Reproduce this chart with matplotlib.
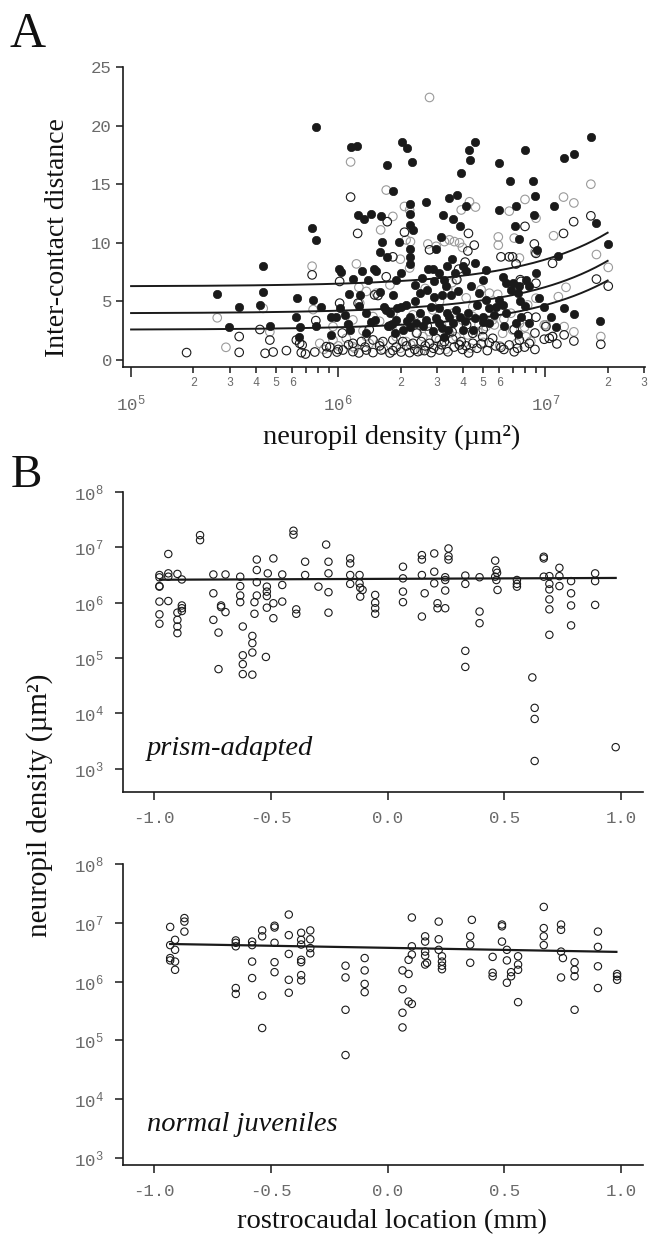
import numpy as np
import matplotlib
matplotlib.use("Agg")
import matplotlib.pyplot as plt
from matplotlib.ticker import FixedLocator, FuncFormatter, NullFormatter

plt.rcParams['font.family'] = ['Liberation Mono', 'DejaVu Sans']
plt.rcParams['mathtext.fontset'] = 'custom'
plt.rcParams['mathtext.rm'] = 'Liberation Mono'

# ---- Panel A data: log10(neuropil density) and inter-contact distance ----
filled_logx = [5.892, 6.06, 6.09, 6.309, 6.331, 6.356, 6.237, 6.661, 6.634, 6.637, 6.594, 6.775,
               6.902, 6.831, 6.939, 6.950, 6.859, 6.854, 6.875, 6.778, 6.945, 6.958, 7.040, 7.088,
               7.138, 7.220, 7.247, 7.304, 7.264, 7.063, 7.137, 7.088, 7.027, 7.053, 6.992, 6.263,
               6.425, 6.534, 6.574, 6.618, 6.508, 6.555, 6.586, 6.094, 6.123, 6.158, 6.205, 6.348,
               6.348, 6.349, 6.361, 6.296, 6.348, 6.345, 6.348, 6.210, 6.203, 6.237, 6.497, 6.470,
               5.874, 5.895, 5.638, 5.416, 5.635, 5.522, 5.622, 5.474, 5.670, 5.803, 5.879, 5.916,
               5.895, 5.798, 5.814, 5.810, 6.004, 6.012, 6.071, 6.116, 6.171, 6.184, 6.144, 5.964,
               5.988, 6.007, 6.031, 6.046, 6.055, 5.967, 6.104, 6.136, 6.133, 6.179, 6.219, 6.232,
               6.264, 6.284, 6.304, 6.328, 6.369, 6.393, 6.406, 6.272, 6.312, 6.345, 6.377, 6.433,
               6.457, 6.465, 6.489, 6.513, 6.465, 6.502, 6.545, 6.489, 6.525, 6.489, 6.537, 6.553,
               6.457, 6.529, 6.513, 6.527, 6.551, 6.563, 6.602, 6.618, 6.663, 6.714, 6.698, 6.642,
               6.682, 6.714, 6.730, 6.762, 6.778, 6.794, 6.586, 6.626, 6.663, 6.698, 6.727, 6.650,
               6.602, 6.810, 6.842, 6.834, 6.866, 6.875, 6.907, 6.955, 6.923, 6.794, 6.810, 6.883,
               6.920, 6.870, 6.859, 6.248, 6.280, 6.304, 6.345, 6.393, 6.425, 6.449,
               6.26, 6.33, 6.41, 6.47, 6.50, 6.57, 6.61, 6.67, 6.70, 6.75, 6.80, 6.43,
               6.52, 6.58, 6.37, 6.28, 6.20, 6.10, 6.05, 6.16, 6.24, 6.90, 6.97, 6.88]
filled_y = [19.9, 18.2, 18.3, 18.6, 18.1, 16.9, 16.6, 18.6, 17.9, 17.1, 15.95, 16.8,
            17.9, 15.3, 15.3, 14.0, 13.1, 11.45, 10.3, 12.8, 12.4, 9.4, 13.1, 17.2,
            17.6, 19.0, 11.7, 9.9, 3.3, 8.9, 3.9, 4.4, 3.7, 2.85, 4.55, 14.4,
            13.45, 13.8, 14.1, 13.1, 12.4, 12.0, 11.4, 12.4, 12.0, 12.45, 12.3, 13.3,
            12.45, 11.5, 11.05, 10.1, 9.5, 8.8, 8.2, 10.1, 9.2, 8.8, 10.5, 9.5,
            11.25, 10.2, 8.0, 5.6, 5.8, 4.5, 4.7, 2.8, 2.9, 5.3, 5.1, 4.5,
            2.9, 3.65, 2.85, 2.0, 7.8, 7.5, 6.9, 7.55, 7.8, 7.55, 6.8, 3.65,
            3.65, 4.4, 3.85, 3.1, 2.55, 2.15, 5.55, 4.0, 2.3, 3.4, 4.5, 4.3,
            5.55, 4.4, 7.4, 4.7, 5.0, 5.7, 7.0, 2.3, 2.55, 2.85, 3.15, 7.8,
            7.75, 6.7, 7.4, 6.8, 5.4, 5.55, 5.55, 4.4, 4.05, 3.15, 3.7, 3.15,
            2.5, 2.55, 2.0, 8.0, 8.6, 7.4, 8.0, 7.6, 8.3, 7.7, 6.8, 6.3,
            5.7, 5.1, 4.4, 4.55, 5.1, 7.1, 3.7, 4.0, 3.55, 3.7, 3.15, 2.6,
            2.55, 6.55, 6.6, 6.0, 5.7, 6.3, 6.85, 7.4, 6.3, 4.7, 4.0, 3.7,
            3.15, 2.2, 3.15, 4.0, 3.4, 4.55, 3.7, 4.0, 3.4, 4.55,
            3.1, 3.3, 2.9, 3.6, 2.7, 4.3, 3.3, 4.7, 3.2, 3.8, 2.9, 6.0,
            6.3, 5.9, 6.4, 6.8, 5.8, 4.6, 5.6, 3.2, 2.9, 4.6, 5.3, 5.0]

open_logx = [5.268, 5.522, 5.647, 5.686, 5.750, 5.522, 5.670, 5.622, 5.822, 5.842, 5.887, 5.946,
             5.994, 6.023, 5.874, 6.060, 6.094, 5.892, 6.071, 6.136, 6.168, 6.208, 6.264, 6.304,
             6.345, 6.385, 6.417, 6.449, 6.489, 6.586, 6.618, 6.650, 6.690, 6.730, 6.786, 6.826,
             6.866, 6.923, 6.995, 7.019, 7.056, 7.091, 7.138, 7.268, 7.137, 7.088, 7.220, 7.247,
             7.304, 6.902, 6.947, 6.955, 6.826, 6.859, 6.879, 6.955, 6.629, 6.657, 6.626, 6.613,
             6.582, 6.573, 6.441, 6.320, 6.264, 6.192, 6.096, 6.007, 6.007, 6.237, 5.814, 5.798,
             5.826, 5.943, 6.232, 6.176, 6.915, 6.955, 6.883, 6.786, 6.842, 7.035, 7.003, 7.035,
             6.875, 6.264, 6.312, 6.361, 6.401, 6.441, 6.473, 6.513, 6.553, 6.594, 6.650, 6.698,
             6.746, 6.071, 6.112, 6.168, 6.216,
             5.96, 6.00, 6.05, 6.10, 6.13, 6.20, 6.25, 6.28, 6.33, 6.37, 6.42, 6.46,
             6.50, 6.53, 6.56, 6.60, 6.63, 6.67, 6.72, 6.76, 6.80, 6.85, 6.90, 6.95,
             6.02, 6.15, 6.25, 6.38, 6.43, 6.55, 6.62, 6.70, 6.85, 6.95]
open_y = [0.63, 0.65, 0.57, 0.68, 0.8, 2.0, 1.7, 2.6, 0.63, 0.51, 0.68, 0.57,
          0.68, 0.85, 7.26, 13.9, 10.8, 3.36, 0.71, 0.85, 0.63, 0.85, 0.8, 0.68,
          0.63, 0.71, 0.8, 0.63, 0.85, 1.28, 1.2, 1.42, 1.37, 1.48, 1.08, 1.28,
          1.0, 1.42, 1.77, 1.85, 1.37, 2.14, 1.62, 1.34, 11.8, 10.8, 12.3, 6.9,
          6.3, 11.4, 9.9, 9.1, 8.8, 8.2, 6.85, 6.55, 10.8, 9.8, 9.3, 8.35,
          7.75, 6.85, 9.4, 10.9, 8.8, 5.5, 4.85, 6.7, 4.85, 11.8, 1.42, 1.7,
          1.28, 1.14, 7.1, 5.55, 3.7, 3.65, 6.7, 8.8, 8.8, 8.25, 2.85, 2.0,
          1.7, 1.71, 1.57, 1.42, 1.57, 1.42, 1.85, 1.57, 1.77, 1.57, 2.28, 1.99,
          1.85, 1.42, 1.57, 1.71, 1.57,
          1.1, 0.9, 1.3, 0.6, 1.1, 1.2, 0.6, 1.1, 1.2, 0.9, 1.2, 1.0,
          1.3, 0.7, 1.1, 0.9, 0.6, 1.0, 0.8, 1.2, 0.9, 0.7, 1.1, 0.9,
          2.3, 2.6, 2.9, 2.3, 2.9, 2.4, 3.0, 2.6, 2.6, 2.3]

grey_logx = [6.441, 6.060, 6.232, 6.264, 6.205, 6.320, 6.345, 6.634, 6.663, 6.594, 6.902, 6.826,
             6.955, 7.088, 7.138, 7.220, 7.040, 6.773, 6.773, 6.850, 6.875, 6.859, 7.247, 7.304,
             7.063, 7.003, 7.091, 7.138, 7.268, 5.874, 5.879, 5.416, 5.458, 5.638, 5.670, 6.088,
             6.136, 6.184, 6.104, 6.328, 6.349, 6.345, 6.433, 6.473, 6.513, 6.537, 6.561, 6.586,
             6.489, 6.529, 6.569, 6.618, 6.650, 6.690, 6.730, 5.911, 5.975, 6.039, 6.071, 6.136,
             6.200, 6.280, 6.328, 6.377, 6.409, 6.441, 6.489, 6.537, 6.569, 6.626, 6.674, 6.714,
             6.754, 6.794, 6.842, 6.907, 6.995, 7.035, 6.875, 6.955, 5.975, 6.071, 6.168, 6.264,
             6.361, 6.457, 6.553, 6.650, 6.746, 6.834, 6.915,
             5.93, 6.00, 6.08, 6.15, 6.22, 6.30, 6.35, 6.40, 6.47, 6.52, 6.58, 6.64,
             6.70, 6.78, 6.86, 6.93, 6.05, 6.12, 6.20, 6.30, 6.40, 6.50, 6.60, 6.68,
             6.80, 6.90, 6.10, 6.25, 6.42, 6.55, 6.30, 6.60, 6.95, 7.10, 6.77]
grey_y = [22.4, 16.9, 14.5, 12.25, 11.1, 13.1, 12.8, 13.5, 13.05, 12.8, 13.7, 12.7,
          12.1, 13.9, 13.4, 15.0, 10.6, 10.5, 9.8, 10.4, 8.7, 8.2, 9.0, 7.9,
          5.4, 3.0, 2.85, 2.4, 2.0, 8.0, 4.3, 3.6, 1.08, 4.4, 2.4, 8.2,
          5.85, 5.7, 4.85, 10.25, 10.1, 7.85, 9.9, 9.7, 10.1, 10.25, 10.1, 10.0,
          5.0, 6.0, 6.85, 5.3, 4.55, 6.0, 5.7, 1.42, 1.71, 1.85, 1.14, 1.99,
          1.42, 1.99, 1.57, 2.28, 1.99, 2.42, 1.71, 2.28, 1.99, 2.14, 2.42, 2.85,
          2.99, 2.28, 2.56, 1.99, 2.99, 1.99, 3.13, 5.27, 2.85, 3.42, 3.7, 3.99,
          3.85, 4.27, 3.99, 3.7, 3.42, 3.99, 4.7,
          0.9, 1.2, 1.0, 1.4, 0.9, 1.0, 1.3, 0.8, 1.2, 0.9, 1.4, 1.0,
          1.5, 1.2, 1.4, 1.6, 3.0, 2.5, 3.3, 2.7, 3.3, 2.9, 3.4, 3.0,
          3.5, 2.8, 6.2, 6.4, 6.1, 6.6, 8.6, 9.6, 9.2, 6.2, 5.6]

# fitted curves (distance = intercept + slope * density)
fit_intercepts = [6.28, 3.98, 2.58]
fit_slopes = [2.29e-7, 2.24e-7, 2.1e-7]
fit_range = [1.0e5, 2.0e7]

# ---- Panel B data: rostrocaudal location (mm) and log10(neuropil density) ----
prism_x = [-0.977, -0.977, -0.977, -0.977, -0.977, -0.977, -0.977, -0.939, -0.939, -0.939, -0.939,
           -0.9, -0.9, -0.9, -0.9, -0.9, -0.881, -0.881, -0.881, -0.881, -0.803, -0.803,
           -0.746, -0.694, -0.746, -0.746, -0.724, -0.724, -0.713, -0.713, -0.694,
           -0.631, -0.631, -0.631, -0.631, -0.62, -0.62, -0.62, -0.62, -0.579,
           -0.579, -0.579, -0.579, -0.570, -0.570, -0.56, -0.56, -0.56, -0.56, -0.521,
           -0.517, -0.517, -0.517, -0.517, -0.513, -0.489, -0.489, -0.489,
           -0.451, -0.451, -0.451, -0.403, -0.403, -0.391, -0.391, -0.353, -0.353,
           -0.296, -0.263, -0.253, -0.253, -0.253, -0.253,
           -0.16, -0.16, -0.16, -0.16, -0.12, -0.12, -0.117, -0.117, -0.107,
           -0.053, -0.053, -0.053, -0.053, 0.066, 0.066, 0.066, 0.066,
           0.147, 0.147, 0.147, 0.147, 0.159, 0.2, 0.2, 0.2, 0.214, 0.214,
           0.247, 0.247, 0.247, 0.247, 0.261, 0.261, 0.261, 0.333, 0.333, 0.333, 0.333,
           0.394, 0.394, 0.394, 0.461, 0.466, 0.469, 0.461, 0.466, 0.471,
           0.554, 0.554, 0.554, 0.62, 0.63, 0.63, 0.63, 0.669, 0.669, 0.669,
           0.693, 0.693, 0.693, 0.693, 0.693, 0.693, 0.736, 0.736, 0.736,
           0.786, 0.786, 0.786, 0.786, 0.889, 0.889, 0.889, 0.977]
prism_logy = [6.50, 6.458, 6.30, 6.29, 6.02, 5.79, 5.62, 6.88, 6.53, 6.47, 6.03,
              6.52, 5.82, 5.69, 5.57, 5.45, 6.42, 5.95, 5.90, 5.85, 7.22, 7.13,
              6.51, 6.51, 6.17, 5.69, 5.46, 4.80, 5.95, 5.92, 5.83,
              6.47, 6.30, 6.13, 6.01, 5.57, 5.05, 4.89, 4.71, 4.70,
              5.40, 5.27, 5.10, 6.01, 5.80, 6.78, 6.59, 6.37, 6.13, 5.02,
              6.29, 6.20, 6.12, 5.91, 6.53, 6.80, 5.99, 5.72,
              6.51, 6.32, 6.02, 7.30, 7.23, 5.88, 5.80, 6.74, 6.50,
              6.29, 7.05, 6.74, 6.53, 6.19, 5.82,
              6.80, 6.71, 6.50, 6.34, 6.50, 6.35, 6.27, 6.11, 6.23,
              6.14, 6.0, 5.90, 5.80, 6.65, 6.44, 6.20, 6.01,
              6.86, 6.78, 6.50, 5.75, 6.17, 6.89, 6.56, 6.35, 5.99, 5.90,
              6.46, 6.41, 6.22, 5.90, 6.98, 6.84, 6.78, 6.49, 6.34, 5.13, 4.84,
              6.46, 5.84, 5.63, 6.76, 6.59, 6.54, 6.47, 6.41, 6.23,
              6.41, 6.34, 6.29, 4.65, 4.10, 3.90, 3.14, 6.83, 6.80, 6.47,
              6.48, 6.34, 6.24, 6.06, 5.88, 5.42, 6.63, 6.48, 6.30,
              6.39, 6.17, 5.95, 5.59, 6.53, 6.39, 5.96, 3.39]
prism_fit_x = [-0.975, 0.977]
prism_fit_y = [2.6e6, 2.8e6]

juvenile_x = [-0.931, -0.931, -0.931, -0.931, -0.91, -0.91, -0.91, -0.91, -0.87, -0.87, -0.87,
              -0.65, -0.65, -0.65, -0.65, -0.65, -0.58, -0.58, -0.58, -0.58,
              -0.537, -0.537, -0.537, -0.537, -0.484, -0.484, -0.484, -0.484, -0.484,
              -0.423, -0.423, -0.423, -0.423, -0.423, -0.37, -0.37, -0.37, -0.37, -0.37, -0.37, -0.37,
              -0.331, -0.331, -0.331, -0.331, -0.18, -0.18, -0.18, -0.18,
              -0.098, -0.098, -0.098, -0.098, 0.064, 0.064, 0.064, 0.064,
              0.09, 0.09, 0.09, 0.104, 0.104, 0.104, 0.104,
              0.161, 0.161, 0.161, 0.161, 0.161, 0.169, 0.219, 0.219, 0.219, 0.233, 0.233, 0.233, 0.233,
              0.354, 0.354, 0.354, 0.361, 0.45, 0.45, 0.45, 0.49, 0.49, 0.49,
              0.511, 0.511, 0.511, 0.529, 0.529, 0.559, 0.559, 0.559, 0.559,
              0.669, 0.669, 0.669, 0.669, 0.743, 0.743, 0.743, 0.751, 0.743,
              0.801, 0.801, 0.801, 0.801, 0.901, 0.901, 0.901, 0.901, 0.983, 0.983, 0.983]
juvenile_logy = [6.93, 6.62, 6.40, 6.36, 6.71, 6.54, 6.34, 6.20, 7.08, 7.02, 6.85,
                 6.70, 6.66, 6.60, 5.89, 5.79, 6.68, 6.62, 6.34, 6.06,
                 6.87, 6.77, 5.76, 5.21, 6.95, 6.92, 6.66, 6.33, 6.16,
                 7.14, 6.79, 6.47, 6.03, 5.81, 6.83, 6.71, 6.63, 6.37, 6.33, 6.11, 6.02,
                 6.87, 6.72, 6.57, 6.48, 6.27, 6.07, 5.52, 4.75,
                 6.40, 6.19, 5.96, 5.82, 6.19, 5.87, 5.47, 5.22,
                 6.37, 6.13, 5.66, 5.62, 7.09, 6.60, 6.46,
                 6.77, 6.68, 6.51, 6.44, 6.29, 6.32, 7.02, 6.72, 6.54, 6.43, 6.34, 6.27, 6.21,
                 6.77, 6.63, 6.32, 7.05, 6.42, 6.15, 6.09, 6.97, 6.94, 6.68,
                 6.54, 6.36, 5.98, 6.16, 6.09, 6.43, 6.29, 6.20, 5.65,
                 7.27, 6.91, 6.77, 6.62, 6.97, 6.88, 6.51, 6.40, 6.07,
                 6.33, 6.20, 6.09, 5.52, 6.85, 6.59, 6.26, 5.89, 6.13, 6.09, 6.03]
juvenile_fit_x = [-0.931, 0.98]
juvenile_fit_y = [4.36e6, 3.2e6]

W, H = 649, 1239
fig = plt.figure(figsize=(W / 100, H / 100), dpi=100)

SPINE = '#1a1a1a'
TICKC = '#6a6a6a'
serif = ['Liberation Serif', 'DejaVu Serif']


def px_axes(left, top, right, bottom):
    return fig.add_axes([left / W, 1 - bottom / H, (right - left) / W, (bottom - top) / H])


def style(ax):
    for s in ['top', 'right']:
        ax.spines[s].set_visible(False)
    for s in ['left', 'bottom']:
        ax.spines[s].set_linewidth(1.2)
        ax.spines[s].set_color(SPINE)
    ax.tick_params(which='both', direction='out', color=SPINE, labelcolor=TICKC, width=1.1)


# ---------------- Panel A ----------------
axA = px_axes(123, 67, 645, 367)
style(axA)
axA.set_xscale('log')
axA.scatter(10 ** np.array(grey_logx), grey_y, s=38, facecolors='none', edgecolors='#9a9a9a', linewidths=0.8)
axA.scatter(10 ** np.array(open_logx), open_y, s=38, facecolors='none', edgecolors='#1a1a1a', linewidths=0.8)
axA.scatter(10 ** np.array(filled_logx), filled_y, s=36, facecolors='#1a1a1a', edgecolors='#1a1a1a', linewidths=0.5)
xf = np.logspace(np.log10(fit_range[0]), np.log10(fit_range[1]), 200)
for a, b in zip(fit_intercepts, fit_slopes):
    axA.plot(xf, a + b * xf, color='#1a1a1a', lw=1.4)
axA.set_xlim(10 ** 4.961, 3.03e7)
axA.set_ylim(-0.6, 25)
axA.spines['left'].set_bounds(-0.6, 25)
axA.set_yticks([0, 5, 10, 15, 20, 25])
axA.tick_params(axis='y', length=5, pad=3, labelsize=12.5)
axA.xaxis.set_major_locator(FixedLocator([1e5, 1e6, 1e7]))
axA.xaxis.set_major_formatter(FuncFormatter(lambda v, p: r'$\mathregular{10^{%d}}$' % round(np.log10(v))))
minor = [m * 10 ** e for e in (5, 6, 7) for m in range(2, 10) if m * 10 ** e <= 3e7]
axA.xaxis.set_minor_locator(FixedLocator(minor))


def minor_fmt(v, p):
    m = int(round(v / 10 ** np.floor(np.log10(v) + 1e-9)))
    return str(m) if m <= 6 else ''


axA.xaxis.set_minor_formatter(FuncFormatter(minor_fmt))
axA.tick_params(axis='x', which='major', length=7, pad=12, labelsize=12.5)
axA.tick_params(axis='x', which='minor', length=4, pad=3, labelsize=8.5)

fig.text(10 / W, 1 - 47 / H, 'A', fontsize=36, family=serif, color='#111111')
fig.text(58 / W, 1 - 238 / H, 'Inter-contact distance', rotation=90, ha='center', va='center',
         fontsize=20, family=serif, color='#111111')
fig.text(392 / W, 1 - 437 / H, 'neuropil density (µm²)', ha='center', va='center',
         fontsize=20.5, family=serif, color='#111111')

# ---------------- Panel B ----------------
fig.text(11 / W, 1 - 487 / H, 'B', fontsize=34, family=serif, color='#111111')


def panel_b(ax, xs, logys, fx, fy, ylo, label, label_y):
    style(ax)
    ax.set_yscale('log')
    ax.scatter(xs, 10 ** np.array(logys), s=28, facecolors='none', edgecolors='#1a1a1a', linewidths=0.8)
    ax.plot(fx, fy, color='#1a1a1a', lw=1.6)
    ax.set_xlim(-1.133, 1.094)
    ax.set_ylim(10 ** ylo, 1e8)
    ax.set_yticks([1e3, 1e4, 1e5, 1e6, 1e7, 1e8])
    ax.yaxis.set_minor_formatter(NullFormatter())
    ax.tick_params(axis='y', which='minor', length=0)
    ax.yaxis.set_major_formatter(FuncFormatter(lambda v, p: r'$\mathregular{10^{%d}}$' % round(np.log10(v))))
    ax.set_xticks([-1.0, -0.5, 0.0, 0.5, 1.0])
    ax.set_xticklabels(['-1.0', '-0.5', '0.0', '0.5', '1.0'])
    ax.tick_params(axis='y', which='major', length=6, pad=8, labelsize=12.5)
    ax.tick_params(axis='x', length=6, pad=8, labelsize=12.5)
    fig.text(147 / W, 1 - label_y / H, label, fontsize=20.5, family=serif, style='italic',
             color='#111111', va='baseline')


axB1 = px_axes(123, 492, 643, 792)
panel_b(axB1, prism_x, prism_logy, prism_fit_x, prism_fit_y, 2.58, 'prism-adapted', 755)
axB2 = px_axes(123, 864, 643, 1165)
panel_b(axB2, juvenile_x, juvenile_logy, juvenile_fit_x, juvenile_fit_y, 2.88, 'normal juveniles', 1131)

fig.text(40 / W, 1 - 805 / H, 'neuropil density (µm²)', rotation=90, ha='center', va='center',
         fontsize=21, family=serif, color='#111111')
fig.text(392 / W, 1 - 1222 / H, 'rostrocaudal location (mm)', ha='center', va='center',
         fontsize=20.5, family=serif, color='#111111')

fig.savefig('out.png', dpi=100)
